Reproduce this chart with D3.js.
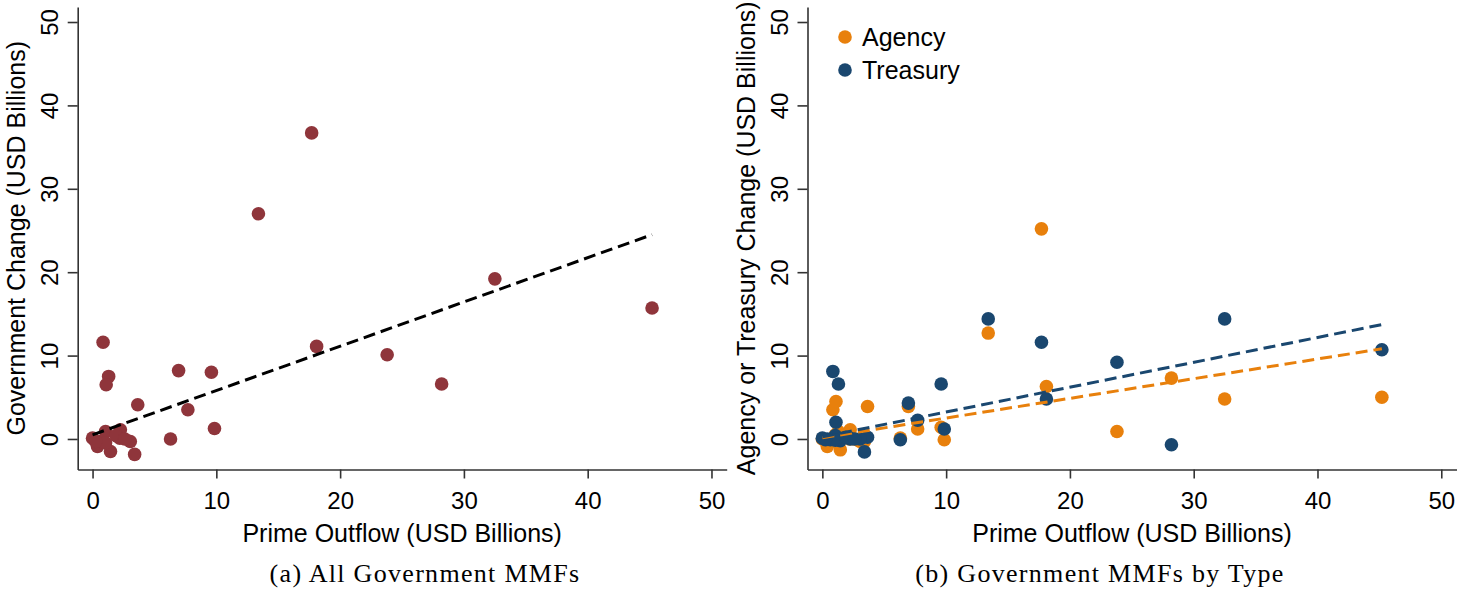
<!DOCTYPE html>
<meta charset="utf-8">
<style>
body { margin: 0; background: #fff; }
.axis path, .axis line { stroke: #333; stroke-width: 1.6; }
.axis text { font-family: "Liberation Sans", Arial, sans-serif; font-size: 24px; fill: #000; }
.label { font-family: "Liberation Sans", Arial, sans-serif; font-size: 25px; fill: #000; }
.caption { font-family: "Liberation Serif", serif; font-size: 26px; letter-spacing: 1.3px; fill: #000; }
</style>
<body>
<script src="https://d3js.org/d3.v7.min.js"></script>
<script>

// one entry per fund family, USD billions
var outflow        = [17.7, 13.4, 32.5, 45.2, 0.85, 18.1, 23.8, 1.3, 1.1, 6.95, 9.6, 7.7, 3.65, 28.2, 9.85, 6.3, 3.05, 3.4, 1.45, 2.25, 2.2, 1.05, 0.0, 0.4, 0.65, 1.05, 0.25, 1.9, 2.6];
var govChange      = [36.7, 27.0, 19.2, 15.7, 11.6, 11.1, 10.1, 7.5, 6.5, 8.2, 8.0, 3.5, 4.1, 6.6, 1.25, 0.0, -0.3, -1.85, -1.5, 1.1, 0.1, 0.9, 0.1, -0.9, -0.3, -0.45, -0.3, 0.4, 0.0];
var agencyChange   = [25.2, 12.7, 4.8, 5.0, 3.5, 6.3, 0.9, 0.9, 4.5, 3.9, 1.4, 1.2, 3.9, 7.3, -0.1, 0.1, -0.3, -0.3, -1.3, 1.1, 0.0, 0.5, 0.0, -0.9, -0.2, -0.3, -0.2, 0.2, 0.0];
var treasuryChange = [11.6, 14.4, 14.4, 10.7, 8.1, 4.8, 9.2, 6.6, 2.0, 4.3, 6.6, 2.25, 0.2, -0.7, 1.2, -0.1, 0.0, -1.55, -0.2, 0.0, 0.1, 0.4, 0.1, 0.0, -0.1, -0.15, -0.1, 0.2, 0.0];

var ticks = [0, 10, 20, 30, 40, 50];

// fitted lines: [intercept, slope]
var fitAll      = [0.5, 0.531];
var fitAgency   = [0.15, 0.236];
var fitTreasury = [0.25, 0.298];

var legendNames = ["Agency", "Treasury"];

var maroon = "#8f353b", orange = "#e8800c", navy = "#1a476f";

var svg = d3.select("body").append("svg")
    .attr("width", 1473)
    .attr("height", 590);

svg.append("rect").attr("width", 1473).attr("height", 590).attr("fill", "#fff");

function panel(left, yTitle, caption, captionX) {
  var x = d3.scaleLinear().domain([-1.2, 51.23]).range([left, left + 649]);
  var y = d3.scaleLinear().domain([-3.66, 51.8]).range([469.5, 7]);
  var g = svg.append("g");

  g.append("g")
    .attr("class", "axis")
    .attr("transform", "translate(0,469.5)")
    .call(d3.axisBottom(x).tickValues(ticks).tickSize(9).tickSizeOuter(0))
    .selectAll("text")
      .attr("y", 39)
      .attr("dy", null);

  g.append("g")
    .attr("class", "axis")
    .attr("transform", "translate(" + left + ",0)")
    .call(d3.axisLeft(y).tickValues(ticks).tickSize(10).tickSizeOuter(0))
    .selectAll("text")
      .attr("x", null)
      .attr("dy", null)
      .style("text-anchor", "middle")
      .attr("transform", "translate(-19.5,0) rotate(-90)");

  g.append("text")
    .attr("class", "label")
    .attr("x", (x.range()[0] + x.range()[1]) / 2)
    .attr("y", 542)
    .style("text-anchor", "middle")
    .text("Prime Outflow (USD Billions)");

  g.append("text")
    .attr("class", "label")
    .attr("transform", "translate(" + (left - 52.5) + "," + (y.range()[0] + y.range()[1]) / 2 + ") rotate(-90)")
    .style("text-anchor", "middle")
    .text(yTitle);

  g.append("text")
    .attr("class", "caption")
    .attr("x", captionX)
    .attr("y", 582)
    .style("text-anchor", "middle")
    .text(caption);

  return {x: x, y: y, g: g};
}

function dots(p, ys, color) {
  p.g.selectAll(null)
    .data(outflow)
    .enter().append("circle")
      .attr("cx", function (d) { return p.x(d); })
      .attr("cy", function (d, i) { return p.y(ys[i]); })
      .attr("r", 6.8)
      .attr("fill", color);
}

function fit(p, coef, color) {
  var xs = [0, d3.max(outflow)];
  p.g.append("path")
    .datum(xs)
    .attr("fill", "none")
    .attr("stroke", color)
    .attr("stroke-width", 3)
    .attr("stroke-dasharray", "12,6")
    .attr("d", d3.line()
      .x(function (d) { return p.x(d); })
      .y(function (d) { return p.y(coef[0] + coef[1] * d); }));
}

// (a) all government funds
var pa = panel(77.7, "Government Change (USD Billions)", "(a) All Government MMFs", 425);
dots(pa, govChange, maroon);
fit(pa, fitAll, "#000");

// (b) split by type
var pb = panel(807.5, "Agency or Treasury Change (USD Billions)", "(b) Government MMFs by Type", 1100);
dots(pb, agencyChange, orange);
dots(pb, treasuryChange, navy);
fit(pb, fitAgency, orange);
fit(pb, fitTreasury, navy);

var legend = pb.g.append("g");
legend.selectAll("circle")
  .data(legendNames)
  .enter().append("circle")
    .attr("cx", 845)
    .attr("cy", function (d, i) { return 37 + i * 33; })
    .attr("r", 6.8)
    .attr("fill", function (d, i) { return i ? navy : orange; });
legend.selectAll("text")
  .data(legendNames)
  .enter().append("text")
    .attr("class", "label")
    .attr("x", 862)
    .attr("y", function (d, i) { return 37 + i * 33; })
    .attr("dy", "0.35em")
    .text(function (d) { return d; });

</script>
</body>
